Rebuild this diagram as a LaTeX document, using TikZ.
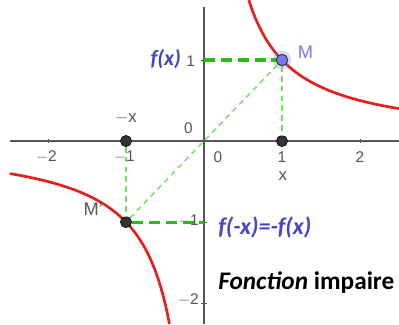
\documentclass[tikz,border=0pt]{standalone}
\usepackage{fontspec}
\setmainfont{Liberation Sans}
\newfontfamily\calib{Carlito}
\usetikzlibrary{positioning,calc}
\definecolor{axisgray}{RGB}{85,85,85}
\definecolor{ticktext}{RGB}{85,85,85}
\definecolor{curvered}{RGB}{230,30,30}
\definecolor{darkgreen}{RGB}{40,190,20}
\definecolor{lightgreen}{RGB}{110,225,90}
\definecolor{labelblue}{RGB}{70,70,200}
\definecolor{pointblue}{RGB}{120,120,235}

\begin{document}
\begin{tikzpicture}[
  x=1.95cm, y=2.025cm,
  axis/.style={draw=axisgray, line width=0.9pt},
  tick/.style={font=\fontsize{11}{13}\selectfont, text=ticktext, inner sep=1pt},
  curve/.style={draw=curvered, line width=1.9pt},
  thickdash/.style={draw=darkgreen, line width=2.2pt, dash pattern=on 8pt off 4pt},
  thindash/.style={draw=lightgreen, line width=1pt, dash pattern=on 4pt off 3pt},
  dot/.style={circle, fill=black!80, draw=black, minimum size=8pt, inner sep=0pt},
  bluedot/.style={circle, fill=pointblue, draw=black!80, line width=0.6pt, minimum size=8pt, inner sep=0pt},
  formula/.style={font=\calib\bfseries\itshape\fontsize{17}{19}\selectfont, text=labelblue, inner sep=0pt},
  ptlabel/.style={font=\fontsize{13}{15}\selectfont, inner sep=0pt},
]
\useasboundingbox (-2.615,-2.259) rectangle (2.5,1.741);

% Axes
\coordinate (xl) at (-2.49,0);
\coordinate (xr) at (2.5,0);
\coordinate (yb) at (0,-2.259);
\coordinate (yt) at (0,1.654);
\coordinate (O) at (0,0);
\draw[axis] (xl) -- (xr);
\draw[axis] (yb) -- (yt);

% Ticks and numbers
\foreach \t in {-2,-1,1,2}
  \draw[axisgray, line width=0.6pt] (\t,0.03) -- (\t,-0.03);
\foreach \t in {1,-1,-2}
  \draw[axisgray, line width=0.6pt] (-0.04,\t) -- (0.04,\t);
\node[tick] (xm2) at (-2.02,-0.2) {$-$2};
\node[tick] (xm1) at (-1.02,-0.2) {$-$1};
\node[tick] (x0) at (0.18,-0.2) {0};
\node[tick] (x1) at (1.0,-0.2) {1};
\node[tick] (x2) at (2.0,-0.2) {2};
\node[tick] (y1) at (-0.17,0.98) {1};
\node[tick] (ym1) at (-0.2,-0.98) {$-$1};
\node[tick] (ym2) at (-0.2,-1.96) {$-$2};
\node[tick] (o) at (-0.2,0.16) {0};

% Curve y = 1/x
\draw[curve, domain=0.575:2.5, samples=80, smooth] plot (\x,{1/\x});
\draw[curve, domain=-2.49:-0.443, samples=80, smooth] plot (\x,{1/\x});

% Points
\coordinate (fy) at (0,1);
\coordinate (mfy) at (0,-1);
\node[circle, fill=pointblue, opacity=0.3, minimum size=13pt, inner sep=0pt] (halo) at (1,1) {};
\node[bluedot] (M) at (1,1) {};
\node[dot] (Mp) at (-1,-1) {};
\node[dot] (px) at (1,0) {};
\node[dot] (mx) at (-1,0) {};

% Dashed guides
\draw[thindash] (Mp) -- (M);
\draw[thindash] (M) -- (px);
\draw[thindash] (mx) -- (Mp);
\draw[thickdash] (fy) -- (M);
\draw[thickdash] (Mp) -- (mfy);
\node[bluedot] at (1,1) {};

% Labels
\node[ptlabel, text=pointblue] (Ml) at (1.3,1.1) {M};
\node[ptlabel, text=ticktext] (Mpl) at (-1.42,-0.84) {M'};
\node[tick, font=\fontsize{12}{14}\selectfont] (mxl) at (-1,0.28) {$-$x};
\node[tick, font=\fontsize{12}{14}\selectfont] (xl1) at (1.01,-0.43) {x};
\node[formula, font=\calib\bfseries\itshape\fontsize{15.5}{18}\selectfont] (fx) at (-0.49,1.01) {f(x)};
\node[formula, anchor=west] (fmx) at (0.18,-1.07) {f(-x)=-f(x)};
\node[anchor=west, inner sep=0pt, font=\calib\bfseries\fontsize{18}{20}\selectfont] (title) at (0.18,-1.75) {\itshape Fonction \upshape impaire};
\end{tikzpicture}
\end{document}
